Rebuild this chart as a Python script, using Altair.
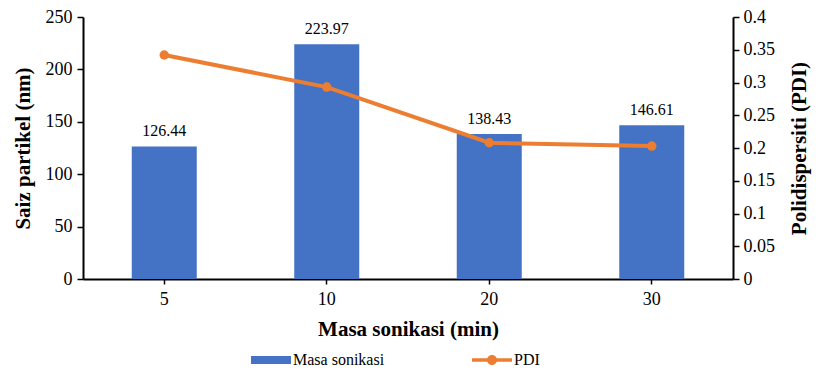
import altair as alt
import pandas as pd

# Sonication time (min), particle size (nm) and polydispersity index
masa = ["5", "10", "20", "30"]
saiz = [126.44, 223.97, 138.43, 146.61]
pdi = [0.342, 0.293, 0.208, 0.203]

legend_items = ["Masa sonikasi", "PDI"]
BLUE = "#4472C4"
ORANGE = "#ED7D31"
FONT = "Liberation Serif"

df = pd.DataFrame({"masa": masa, "saiz": saiz, "pdi": pdi})
df["label"] = [f"{v:.2f}" for v in saiz]

x_enc = alt.X(
    "masa:N",
    sort=masa,
    scale=alt.Scale(paddingInner=0.6, paddingOuter=0.3),
    axis=alt.Axis(title="Masa sonikasi (min)", labelAngle=0, tickSize=5,
                  labelPadding=6, titlePadding=10),
)

y_left = alt.Y(
    "saiz:Q",
    scale=alt.Scale(domain=[0, 250], nice=False),
    axis=alt.Axis(title="Saiz partikel (nm)", values=[0, 50, 100, 150, 200, 250],
                  grid=False, tickSize=6, labelPadding=5, titlePadding=12),
)

base = alt.Chart(df)

bars = base.mark_bar(color=BLUE).encode(x=x_enc, y=y_left)

labels = base.mark_text(dy=-15, fontSize=16, font=FONT, color="#000").encode(
    x=x_enc, y=y_left, text="label:N"
)

line = base.mark_line(color=ORANGE, strokeWidth=4,
                      point=alt.OverlayMarkDef(color=ORANGE, size=90, filled=True)).encode(
    x=x_enc,
    y=alt.Y(
        "pdi:Q",
        scale=alt.Scale(domain=[0, 0.4], nice=False),
        axis=alt.Axis(title="Polidispersiti (PDI)", orient="right",
                      values=[0, 0.05, 0.1, 0.15, 0.2, 0.25, 0.3, 0.35, 0.4],
                      format="~g", grid=False, tickSize=6, labelPadding=4,
                      titlePadding=14, titleAngle=270, titleBaseline="top"),
    ),
)

# Legend-only layer: explicit domains, no drawn points
rect_path = "M-1,-0.2L1,-0.2L1,0.2L-1,0.2Z"
line_dot_path = ("M-1,-0.09L1,-0.09L1,0.09L-1,0.09Z "
                 "M0.25,0A0.25,0.25 0 1,1 -0.25,0A0.25,0.25 0 1,1 0.25,0Z")

legend_df = pd.DataFrame({"series": legend_items})
legend_layer = alt.Chart(legend_df).mark_point(filled=True, opacity=1).encode(
    color=alt.Color("series:N", scale=alt.Scale(domain=legend_items, range=[BLUE, ORANGE]),
                    legend=alt.Legend(title=None, orient="none", legendX=168, legendY=323,
                                      direction="horizontal", columns=2, columnPadding=87,
                                      symbolSize=1600, symbolStrokeWidth=0,
                                      labelFontSize=16, labelFont=FONT,
                                      labelColor="#000", labelOffset=2)),
    shape=alt.Shape("series:N", scale=alt.Scale(domain=legend_items,
                                                range=[rect_path, line_dot_path])),
).transform_filter("false")

chart = (
    alt.layer(alt.layer(bars, labels), line, legend_layer)
    .resolve_scale(y="independent", color="independent", shape="independent")
    .properties(width=650, height=262, padding={"left": 12, "top": 8, "right": 2, "bottom": 0})
    .configure_view(stroke=None)
    .configure_axis(
        labelFont=FONT, labelFontSize=18, labelColor="#000",
        titleFont=FONT, titleFontSize=21, titleFontWeight="bold",
        titleColor="#000", domainColor="#000", domainWidth=2, tickColor="#000",
        tickWidth=1.5,
    )
)

chart.save("out.html", embed_options={"renderer": "svg", "actions": False})
